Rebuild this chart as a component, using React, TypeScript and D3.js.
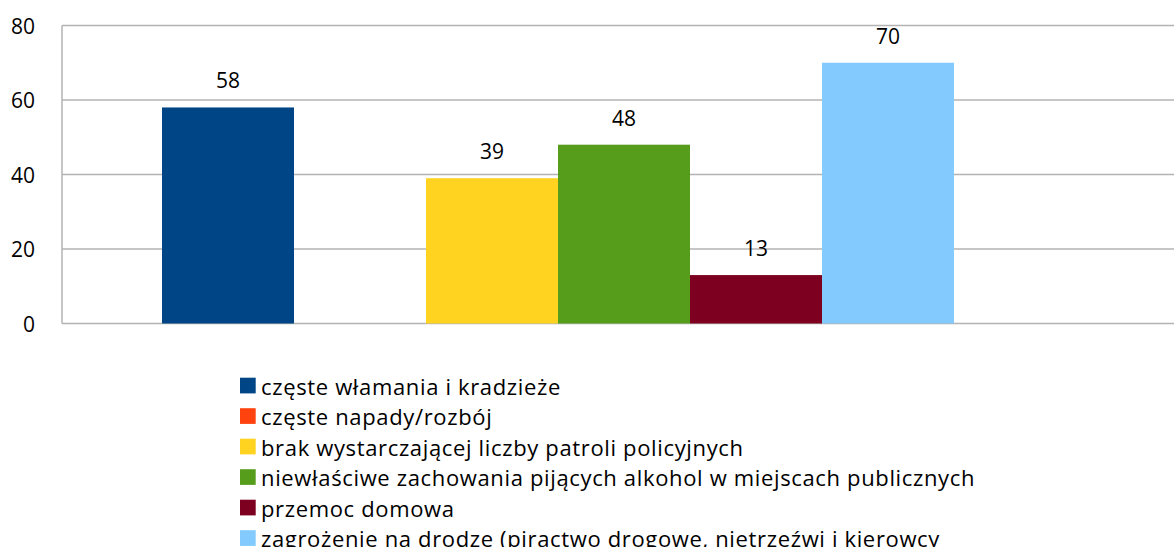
import React from "react";
import * as d3 from "d3";

const seriesNames = [
  "częste włamania i kradzieże",
  "częste napady/rozbój",
  "brak wystarczającej liczby patroli policyjnych",
  "niewłaściwe zachowania pijących alkohol w miejscach publicznych",
  "przemoc domowa",
  "zagrożenie na drodze (piractwo drogowe, nietrzeźwi i kierowcy",
];
const seriesValues: (number | null)[] = [58, null, 39, 48, 13, 70];
const seriesColors = ["#004586", "#ff420e", "#ffd320", "#579d1c", "#7e0021", "#83caff"];
const yTicks = [0, 20, 40, 60, 80];

const W = 1174;
const H = 547;
const FONT = "'Open Sans', 'Noto Sans', sans-serif";

export default function App() {
  const plotLeft = 62;
  const plotRight = 1174;
  const plotTop = 25.5;
  const plotBottom = 323.5;
  const groupStart = plotLeft + 100;
  const barW = 132;

  const y = d3.scaleLinear().domain([0, 80]).range([plotBottom, plotTop]);
  const x = d3
    .scaleBand<string>()
    .domain(seriesNames)
    .range([groupStart, groupStart + barW * seriesNames.length])
    .padding(0);

  const legendX = 240;
  const legendY0 = 385.5;
  const legendStep = 30.5;

  return (
    <svg
      width={W}
      height={H}
      style={{ position: "absolute", left: 0, top: 0, background: "#fff" }}
      fontFamily={FONT}
    >
      {yTicks.map((t) => (
        <g key={t}>
          <line
            x1={plotLeft}
            x2={plotRight}
            y1={y(t)}
            y2={y(t)}
            stroke="#b3b3b3"
            strokeWidth={1.5}
          />
          <text
            x={35}
            y={y(t)}
            textAnchor="end"
            dominantBaseline="central"
            fontSize={21}
            fill="#000"
          >
            {t}
          </text>
        </g>
      ))}
      <line x1={plotLeft} x2={plotLeft} y1={plotTop} y2={plotBottom} stroke="#b3b3b3" strokeWidth={1.5} />
      {seriesNames.map((s, i) => {
        const v = seriesValues[i];
        if (v == null) return null;
        const x0 = x(s)!;
        return (
          <g key={s}>
            <rect x={x0} y={y(v)} width={x.bandwidth()} height={y(0) - y(v)} fill={seriesColors[i]} />
            <text
              x={x0 + x.bandwidth() / 2}
              y={y(v) - 19}
              textAnchor="middle"
              fontSize={21}
              fill="#000"
            >
              {v}
            </text>
          </g>
        );
      })}
      {seriesNames.map((s, i) => {
        const cy = legendY0 + i * legendStep;
        return (
          <g key={"l" + s}>
            <rect x={legendX} y={cy - 7.8} width={15.7} height={15.7} fill={seriesColors[i]} />
            <text
              x={legendX + 21}
              y={cy}
              dominantBaseline="central"
              fontSize={22}
              letterSpacing={0.65}
              fill="#000"
            >
              {s}
            </text>
          </g>
        );
      })}
    </svg>
  );
}
